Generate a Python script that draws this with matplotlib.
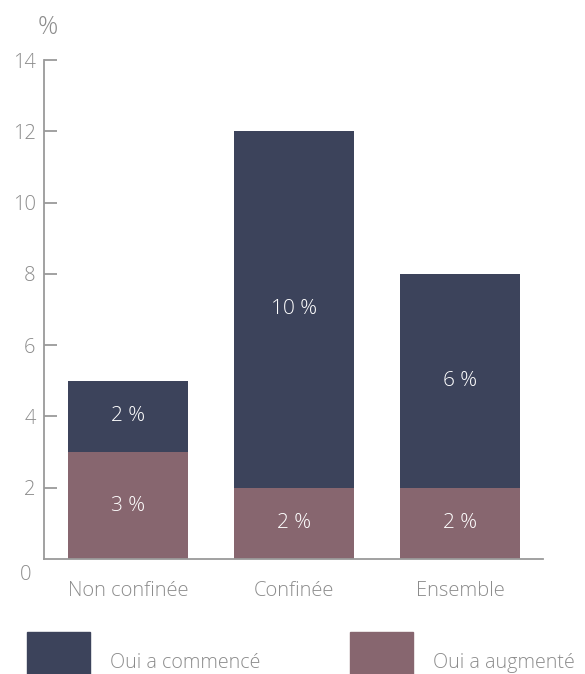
import matplotlib
matplotlib.use("Agg")
import matplotlib.pyplot as plt
from matplotlib.patches import Rectangle
from matplotlib.transforms import blended_transform_factory

plt.rcParams['font.family'] = ['Open Sans', 'Lato', 'DejaVu Sans']

categories = ["Non confinée", "Confinée", "Ensemble"]
oui_a_augmente = [3, 2, 2]
oui_a_commence = [2, 10, 6]
yticks = [2, 4, 6, 8, 10, 12, 14]

navy = "#3c435b"
mauve = "#87666f"
grey = "#8c8c8c"
axis_grey = "#9a9a9a"
fs_tick = 14.5
fs_val = 15
fs_cat = 14.5
fs_leg = 14.2

fig = plt.figure(figsize=(5.85, 6.74), dpi=100)
ax = fig.add_axes([44 / 585, 115 / 674, (543 - 44) / 585, (559 - 60) / 674])

x = range(len(categories))
width = 0.723
ax.bar(x, oui_a_augmente, width=width, color=mauve, zorder=2)
ax.bar(x, oui_a_commence, width=width, bottom=oui_a_augmente, color=navy, zorder=2)

for i, (a, c) in enumerate(zip(oui_a_augmente, oui_a_commence)):
    ax.text(i, a / 2, f"{a} %", ha="center", va="center", color="white",
            fontsize=fs_val, fontweight="light", zorder=3)
    ax.text(i, a + c / 2, f"{c} %", ha="center", va="center", color="white",
            fontsize=fs_val, fontweight="light", zorder=3)

ax.set_xlim(-0.506, 2.5)
ax.set_ylim(0, 14)

for side in ("top", "right"):
    ax.spines[side].set_visible(False)
for side in ("left", "bottom"):
    ax.spines[side].set_color(axis_grey)
    ax.spines[side].set_linewidth(1.3)

ax.set_yticks(yticks)
ax.set_yticklabels([str(t) for t in yticks])
ax.tick_params(axis="y", direction="in", length=9.5, width=1.3, color=axis_grey,
               labelcolor=grey, labelsize=fs_tick, pad=6)
ax.set_xticks(list(x))
ax.set_xticklabels(categories)
ax.tick_params(axis="x", length=0, labelcolor=grey, labelsize=fs_cat, pad=16)
for lbl in ax.get_xticklabels() + ax.get_yticklabels():
    lbl.set_fontweight("light")

# zero label sits below the baseline
tr = blended_transform_factory(fig.transFigure, ax.transData)
ax.text(31 / 585, -0.45, "0", transform=tr, ha="right", va="center",
        color=grey, fontsize=fs_tick, fontweight="light")
# unit label above the axis
fig.text(48 / 585, 1 - 27 / 674, "%", ha="center", va="center",
         color=grey, fontsize=18, fontweight="light")

# legend squares and labels
for x0, col, label, tx in [(27, navy, "Oui a commencé", 110),
                           (350, mauve, "Oui a augmenté", 433)]:
    fig.patches.append(Rectangle((x0 / 585, 1 - 695 / 674), 63 / 585, 63 / 674,
                                 transform=fig.transFigure, color=col,
                                 figure=fig))
    fig.text(tx / 585, 1 - 663 / 674, label, ha="left", va="center",
             color=grey, fontsize=fs_leg, fontweight="light")

fig.savefig("out.png", dpi=100)
